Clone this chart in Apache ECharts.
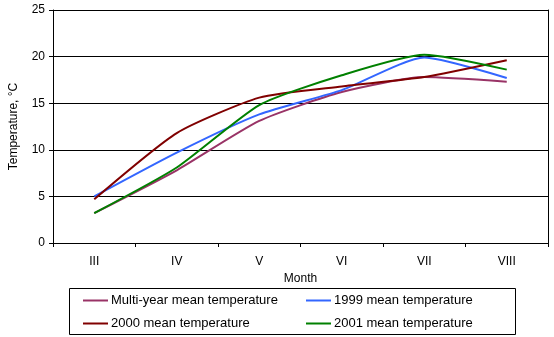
<!DOCTYPE html>
<html>
<head>
<meta charset="utf-8">
<style>
  html, body { margin: 0; padding: 0; background: #ffffff; }
  #chart { width: 554px; height: 337px; }
</style>
<script src="https://cdn.jsdelivr.net/npm/echarts@6/dist/echarts.min.js"></script>
</head>
<body>
<div id="chart"></div>
<script>
// Months (Roman numerals) and monthly mean temperatures, °C
const months = ['III', 'IV', 'V', 'VI', 'VII', 'VIII'];
const yTicks = [0, 5, 10, 15, 20, 25];

const multiYear = [3.2, 7.8, 13.1, 16.2, 17.8, 17.3];
const t1999 = [5.0, 9.7, 13.8, 16.4, 19.9, 17.7];
const t2000 = [4.7, 11.8, 15.6, 16.8, 17.8, 19.6];
const t2001 = [3.2, 8.1, 14.8, 18.0, 20.2, 18.6];

const seriesNames = [
  'Multi-year mean temperature',
  '1999 mean temperature',
  '2000 mean temperature',
  '2001 mean temperature'
];
const seriesColors = ['#993366', '#3366FF', '#800000', '#008000'];
const seriesValues = [multiYear, t1999, t2000, t2001];

const FONT = 'Liberation Sans, Arial, sans-serif';
const chart = echarts.init(document.getElementById('chart'), null, { renderer: 'canvas' });

// one legend entry per box: two columns, two rows
const legendSlots = [
  { left: 83, top: 294 },
  { left: 306, top: 294 },
  { left: 83, top: 317 },
  { left: 306, top: 317 }
];
const legends = seriesNames.map((name, i) => ({
  left: legendSlots[i].left,
  top: legendSlots[i].top,
  padding: 0,
  itemWidth: 25,
  itemHeight: 12,
  icon: 'path://M0,5 L25,5 L25,7 L0,7 Z',
  textStyle: { fontFamily: FONT, fontSize: 13, color: '#000', padding: [0, 0, 0, -2] },
  selectedMode: false,
  data: [name]
}));

chart.setOption({
  animation: false,
  backgroundColor: '#ffffff',
  grid: { left: 52, right: 6, top: 10, bottom: 94, show: false },
  legend: legends,
  graphic: [{
    type: 'rect',
    shape: { x: 69.5, y: 288.5, width: 446, height: 46 },
    style: { fill: 'none', stroke: '#000', lineWidth: 1 },
    silent: true
  }],
  xAxis: {
    type: 'category',
    data: months,
    boundaryGap: true,
    name: 'Month',
    nameLocation: 'middle',
    nameGap: 26,
    nameTextStyle: { fontFamily: FONT, fontSize: 12, color: '#000' },
    axisLine: { lineStyle: { color: '#000', width: 1 } },
    axisTick: { show: true, length: 4, lineStyle: { color: '#000' } },
    axisLabel: { fontFamily: FONT, fontSize: 12, color: '#000', margin: 13 },
    splitLine: { show: false }
  },
  yAxis: [{
    type: 'value',
    min: yTicks[0],
    max: yTicks[yTicks.length - 1],
    interval: 5,
    name: 'Temperature, °C',
    nameLocation: 'middle',
    nameGap: 33,
    nameTextStyle: { fontFamily: FONT, fontSize: 12, color: '#000' },
    axisLine: { show: true, lineStyle: { color: '#000', width: 1 } },
    axisTick: { show: true, length: 4, lineStyle: { color: '#000' } },
    axisLabel: { fontFamily: FONT, fontSize: 12, color: '#000', margin: 8 },
    splitLine: { show: true, lineStyle: { color: '#000', width: 1 } }
  }, {
    type: 'value',
    position: 'right',
    min: yTicks[0],
    max: yTicks[yTicks.length - 1],
    interval: 5,
    axisLine: { show: true, lineStyle: { color: '#000', width: 1 } },
    axisTick: { show: false },
    axisLabel: { show: false },
    splitLine: { show: false }
  }],
  series: seriesNames.map((name, i) => ({
    name: name,
    type: 'line',
    data: seriesValues[i],
    smooth: 0.2,
    symbol: 'none',
    color: seriesColors[i],
    lineStyle: { width: 2, color: seriesColors[i] },
    z: 3
  }))
});
</script>
</body>
</html>
